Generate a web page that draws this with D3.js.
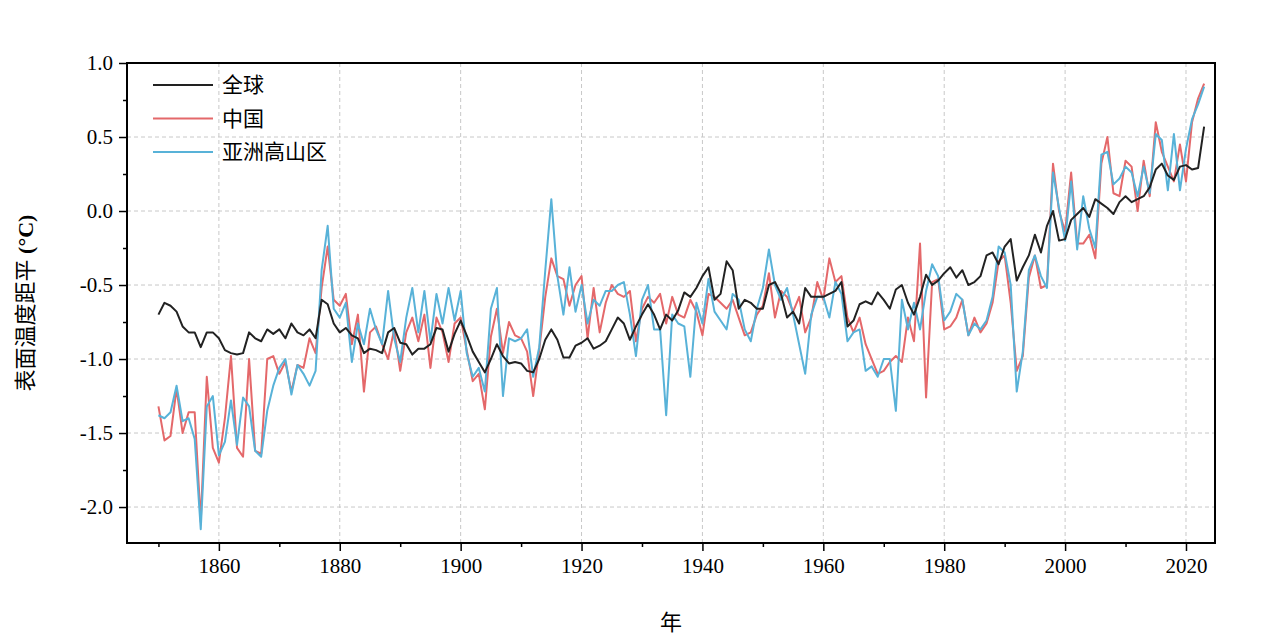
<!DOCTYPE html>
<html>
<head>
<meta charset="utf-8">
<script src="https://cdn.jsdelivr.net/npm/d3@7"></script>
<style>
  body { margin: 0; background: #fff; }
  text { font-family: "Liberation Serif", "Noto Sans CJK SC", serif; }
</style>
</head>
<body>
<svg id="chart" width="1280" height="640"></svg>
<script>
const startYear = 1850;
const globalVals = [
  -0.70,-0.62,-0.64,-0.68,-0.78,-0.82,-0.82,-0.92,-0.82,-0.82,
  -0.86,-0.94,-0.96,-0.97,-0.96,-0.82,-0.86,-0.88,-0.80,-0.83,
  -0.80,-0.86,-0.76,-0.82,-0.84,-0.80,-0.86,-0.60,-0.63,-0.76,
  -0.82,-0.79,-0.84,-0.86,-0.96,-0.93,-0.94,-0.96,-0.82,-0.79,
  -0.89,-0.90,-0.97,-0.93,-0.93,-0.90,-0.79,-0.80,-0.95,-0.83,
  -0.74,-0.84,-0.95,-1.02,-1.09,-1.00,-0.90,-0.98,-1.03,-1.02,
  -1.03,-1.08,-1.09,-1.00,-0.87,-0.80,-0.87,-0.99,-0.99,-0.91,
  -0.89,-0.86,-0.93,-0.91,-0.88,-0.80,-0.72,-0.76,-0.87,-0.78,
  -0.70,-0.63,-0.70,-0.80,-0.70,-0.74,-0.67,-0.55,-0.58,-0.52,
  -0.44,-0.38,-0.60,-0.56,-0.34,-0.40,-0.66,-0.60,-0.62,-0.66,
  -0.66,-0.50,-0.48,-0.56,-0.72,-0.68,-0.76,-0.52,-0.58,-0.58,
  -0.58,-0.56,-0.54,-0.48,-0.78,-0.74,-0.63,-0.61,-0.63,-0.55,
  -0.60,-0.66,-0.53,-0.50,-0.62,-0.70,-0.58,-0.43,-0.50,-0.47,
  -0.42,-0.38,-0.45,-0.40,-0.50,-0.48,-0.44,-0.30,-0.28,-0.36,
  -0.24,-0.19,-0.47,-0.38,-0.30,-0.16,-0.28,-0.10,0.00,-0.20,
  -0.19,-0.06,-0.02,0.02,-0.04,0.08,0.05,0.02,-0.02,0.06,
  0.10,0.06,0.08,0.10,0.16,0.28,0.32,0.24,0.21,0.30,
  0.31,0.28,0.29,0.57
];
const chinaVals = [
  -1.32,-1.55,-1.52,-1.20,-1.50,-1.36,-1.36,-2.10,-1.12,-1.60,
  -1.70,-1.40,-0.98,-1.60,-1.66,-1.00,-1.62,-1.64,-1.00,-0.98,
  -1.10,-1.02,-1.22,-1.04,-1.06,-0.86,-0.96,-0.52,-0.24,-0.60,
  -0.64,-0.56,-0.90,-0.70,-1.22,-0.82,-0.78,-0.90,-1.00,-0.80,
  -1.08,-0.82,-0.72,-0.88,-0.70,-1.06,-0.72,-0.82,-1.02,-0.76,
  -0.72,-0.94,-1.15,-1.10,-1.34,-0.85,-0.66,-0.96,-0.75,-0.84,
  -0.86,-0.95,-1.25,-0.94,-0.58,-0.32,-0.44,-0.46,-0.64,-0.50,
  -0.44,-0.86,-0.52,-0.82,-0.62,-0.50,-0.56,-0.58,-0.54,-0.88,
  -0.66,-0.58,-0.62,-0.56,-0.76,-0.58,-0.70,-0.72,-0.60,-0.68,
  -0.84,-0.56,-0.58,-0.62,-0.66,-0.60,-0.72,-0.84,-0.82,-0.70,
  -0.64,-0.42,-0.72,-0.54,-0.58,-0.68,-0.58,-0.82,-0.72,-0.48,
  -0.60,-0.32,-0.48,-0.44,-0.72,-0.82,-0.72,-0.90,-1.00,-1.10,
  -1.08,-1.02,-0.98,-1.02,-0.72,-0.88,-0.22,-1.26,-0.48,-0.46,
  -0.80,-0.78,-0.72,-0.60,-0.84,-0.72,-0.82,-0.76,-0.62,-0.34,
  -0.30,-0.62,-1.08,-0.98,-0.45,-0.30,-0.52,-0.50,0.32,0.00,
  -0.14,0.26,-0.22,-0.22,-0.16,-0.32,0.32,0.50,0.12,0.10,
  0.34,0.30,0.00,0.34,0.10,0.60,0.40,0.30,0.20,0.45,
  0.20,0.60,0.76,0.86
];
const hmaVals = [
  -1.38,-1.40,-1.36,-1.18,-1.42,-1.40,-1.54,-2.15,-1.32,-1.25,
  -1.65,-1.56,-1.28,-1.58,-1.26,-1.32,-1.62,-1.66,-1.35,-1.18,
  -1.06,-1.00,-1.24,-1.04,-1.10,-1.18,-1.08,-0.40,-0.10,-0.66,
  -0.72,-0.62,-1.02,-0.76,-0.90,-0.66,-0.80,-0.90,-0.54,-0.86,
  -1.02,-0.72,-0.52,-0.82,-0.54,-0.88,-0.56,-0.76,-0.52,-0.74,
  -0.54,-0.96,-1.12,-1.06,-1.22,-0.66,-0.52,-1.25,-0.86,-0.88,
  -0.86,-0.80,-1.12,-0.92,-0.40,0.08,-0.44,-0.70,-0.38,-0.68,
  -0.50,-0.76,-0.60,-0.64,-0.54,-0.54,-0.50,-0.48,-0.70,-0.98,
  -0.60,-0.50,-0.80,-0.80,-1.38,-0.70,-0.76,-0.78,-1.12,-0.62,
  -0.76,-0.46,-0.68,-0.74,-0.80,-0.56,-0.60,-0.80,-0.88,-0.66,
  -0.52,-0.26,-0.50,-0.60,-0.52,-0.70,-0.90,-1.10,-0.70,-0.58,
  -0.58,-0.72,-0.48,-0.56,-0.88,-0.82,-0.80,-1.08,-1.05,-1.12,
  -1.00,-1.00,-1.35,-0.60,-0.80,-0.62,-0.80,-0.54,-0.36,-0.44,
  -0.74,-0.68,-0.56,-0.60,-0.84,-0.76,-0.80,-0.74,-0.58,-0.24,
  -0.28,-0.50,-1.22,-0.95,-0.40,-0.30,-0.44,-0.52,0.26,0.02,
  -0.20,0.20,-0.26,0.10,-0.12,-0.25,0.38,0.40,0.18,0.22,
  0.30,0.26,0.10,0.30,0.12,0.52,0.48,0.14,0.52,0.14,
  0.42,0.62,0.72,0.84
];
const seriesNames = ['全球', '中国', '亚洲高山区'];
const seriesColors = ['#222222', '#e4686a', '#58b2d8'];
const xTicks = [1860, 1880, 1900, 1920, 1940, 1960, 1980, 2000, 2020];
const yTicks = [1.0, 0.5, 0.0, -0.5, -1.0, -1.5, -2.0];

const svg = d3.select('#chart');
const margin = { top: 63, right: 65, bottom: 97, left: 127 };
const W = 1280 - margin.left - margin.right;
const H = 640 - margin.top - margin.bottom;

const x = d3.scaleLinear().domain([1844.8, 2024.8]).range([0, W]);
const y = d3.scaleLinear().domain([-2.243, 1.0]).range([H, 0]);

const g = svg.append('g').attr('transform', `translate(${margin.left},${margin.top})`);

// grid
g.selectAll('.gx').data(xTicks).enter().append('line')
  .attr('x1', d => x(d)).attr('x2', d => x(d)).attr('y1', 0).attr('y2', H)
  .attr('stroke', '#c8c8c8').attr('stroke-dasharray', '4,3').attr('stroke-width', 1);
g.selectAll('.gy').data(yTicks).enter().append('line')
  .attr('x1', 0).attr('x2', W).attr('y1', d => y(d)).attr('y2', d => y(d))
  .attr('stroke', '#c8c8c8').attr('stroke-dasharray', '4,3').attr('stroke-width', 1);

// axes
const xAxis = g.append('g').attr('transform', `translate(0,${H})`)
  .call(d3.axisBottom(x).tickValues(xTicks).tickFormat(d3.format('d')).tickSize(8).tickPadding(7));
const xMinor = g.append('g').attr('transform', `translate(0,${H})`)
  .call(d3.axisBottom(x).tickValues(d3.range(1850, 2021, 20)).tickFormat('').tickSize(4));
const yAxis = g.append('g')
  .call(d3.axisLeft(y).tickValues(yTicks).tickFormat(d3.format('.1f')).tickSize(8).tickPadding(6));
const yMinor = g.append('g')
  .call(d3.axisLeft(y).tickValues([0.75, 0.25, -0.25, -0.75, -1.25, -1.75]).tickFormat('').tickSize(4));
[xAxis, xMinor, yAxis, yMinor].forEach(a => {
  a.select('.domain').remove();
  a.selectAll('line').attr('stroke', '#000').attr('stroke-width', 1.5);
  a.selectAll('text').attr('font-size', 21).attr('fill', '#000');
});
yAxis.selectAll('text').text(d => d3.format('.1f')(d).replace('−', '-'));

// lines
const line = d3.line().x((d, i) => x(startYear + i)).y(d => y(d));
[[chinaVals, 1], [hmaVals, 2], [globalVals, 0]].forEach(([vals, idx]) => {
  g.append('path').datum(vals).attr('d', line)
    .attr('fill', 'none').attr('stroke', seriesColors[idx]).attr('stroke-width', 2)
    .attr('stroke-linejoin', 'round');
});

// frame
g.append('rect').attr('width', W).attr('height', H)
  .attr('fill', 'none').attr('stroke', '#000').attr('stroke-width', 2);

// legend
const leg = g.append('g').attr('transform', 'translate(26,22)');
seriesNames.forEach((n, i) => {
  leg.append('line').attr('x1', 0).attr('x2', 60).attr('y1', i * 33.5).attr('y2', i * 33.5)
    .attr('stroke', seriesColors[i]).attr('stroke-width', 2);
  leg.append('text').attr('x', 69).attr('y', i * 33.5 + 7).attr('font-size', 21)
    .attr('font-family', '"Noto Sans CJK SC", sans-serif').text(n);
});

// axis titles
svg.append('text').attr('x', margin.left + W / 2).attr('y', 630).attr('text-anchor', 'middle')
  .attr('font-size', 22).attr('font-family', '"Noto Sans CJK SC", sans-serif').text('年');
const yt = svg.append('text').attr('transform', `translate(33,${margin.top + H / 2}) rotate(-90)`)
  .attr('text-anchor', 'middle').attr('font-size', 22)
  .attr('font-family', '"Noto Sans CJK SC", sans-serif');
yt.append('tspan').text('表面温度距平 ');
yt.append('tspan').attr('font-family', '"Liberation Serif", serif').attr('font-weight', 'bold').text('(°C)');
</script>
</body>
</html>
